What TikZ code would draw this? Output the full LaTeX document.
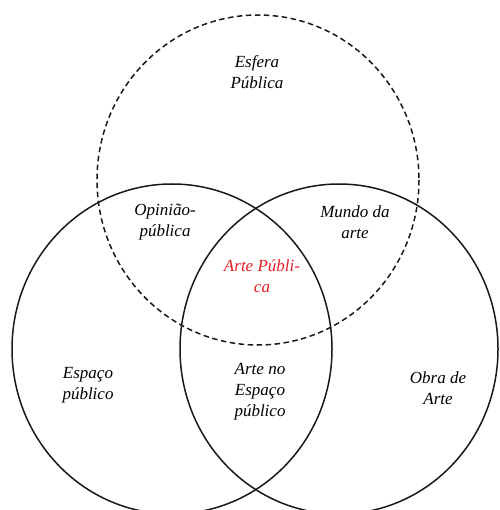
\documentclass[tikz,border=0pt]{standalone}
\usepackage{fontspec}
\setmainfont{Liberation Serif}
\definecolor{artred}{RGB}{232,30,40}
\begin{document}
\begin{tikzpicture}[x=1pt,y=-1pt,
  ring/.style={line width=1.5pt,black!90},
  lbl/.style={font=\fontsize{17}{21}\selectfont\itshape,align=center,text=black,inner sep=0pt}]
\useasboundingbox (0,0) rectangle (499,510);
\begin{scope}
\clip (0,0) rectangle (499,510);
\draw[ring,dash pattern=on 5.5pt off 3.5pt] (258,180) ellipse [x radius=161, y radius=165];
\draw[ring] (172,349) ellipse [x radius=160, y radius=165];
\draw[ring] (339,349) ellipse [x radius=159, y radius=165];
\end{scope}
\node[lbl] (esfera) at (257,72) {Esfera\\Pública};
\node[lbl] (opiniao) at (165,222) {Opinião-\\pública};
\node[lbl] (mundo) at (355,222) {Mundo da\\arte};
\node[lbl,text=artred] (artepub) at (262,276) {Arte Públi-\\ca};
\node[lbl] (espaco) at (88,385) {Espaço\\público};
\node[lbl] (artenoesp) at (260,392) {Arte no\\Espaço\\público};
\node[lbl] (obra) at (438,388) {Obra de\\Arte};
\end{tikzpicture}
\end{document}
